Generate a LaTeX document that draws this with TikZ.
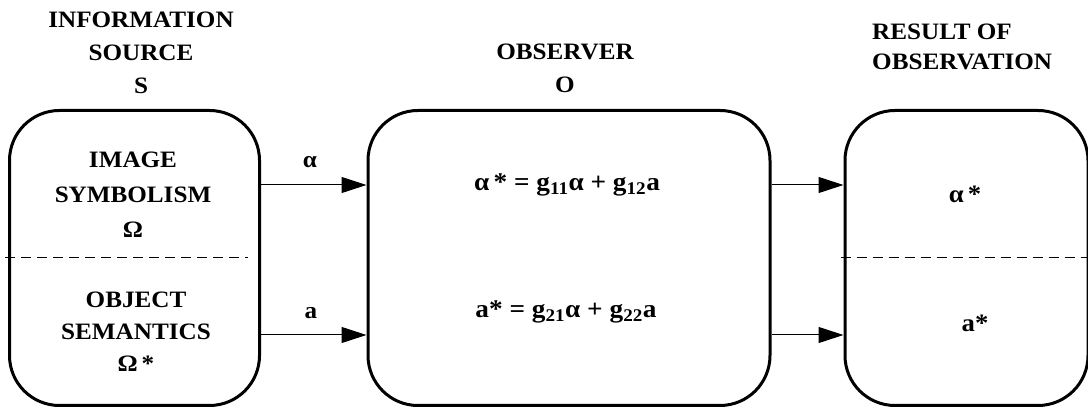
\documentclass[tikz,border=0pt]{standalone}
\usepackage{fontspec}
\setmainfont{Liberation Serif}[FakeStretch=1.07]
\usetikzlibrary{arrows.meta}

\begin{document}
\begin{tikzpicture}[x=1pt, y=1pt, line join=round,
  box/.style={draw, line width=3pt, rounded corners=50pt, inner sep=0pt},
  sig/.style={-{Triangle[length=25pt, width=16pt]}, line width=1pt},
  sep/.style={dash pattern=on 10pt off 6pt, line width=1pt},
  lbl/.style={font=\fontsize{23.5}{33}\selectfont\bfseries, align=center, inner sep=0pt}]
  \useasboundingbox (0,0) rectangle (1088,410);

  % the three blocks
  \node[box, minimum width=250pt, minimum height=295pt] (src) at (134.5,152) {};
  \node[box, minimum width=402pt, minimum height=295pt] (obs) at (569,152) {};
  \node[box, minimum width=243pt, minimum height=295pt] (res) at (966.5,152) {};

  \draw[sep] ([xshift=-3pt]src.west) -- ([xshift=-13pt]src.east);
  \draw[sep] ([xshift=-3pt]res.west) -- (res.east);

  % titles
  \node[lbl] (srct) at (141,357) {INFORMATION\\SOURCE\\S};
  \node[lbl] (obst) at (565,341.5) {OBSERVER\\O};
  \node[lbl, align=left, anchor=west, font=\fontsize{23.5}{30}\selectfont\bfseries] (rest) at (872,363) {RESULT OF\\OBSERVATION};

  % contents
  \node[lbl, font=\fontsize{23.5}{35}\selectfont\bfseries] (img) at (133,215) {IMAGE\\SYMBOLISM\\Ω};
  \node[lbl, font=\fontsize{23.5}{32}\selectfont\bfseries] (sem) at (136,78) {OBJECT\\SEMANTICS\\Ω\,*};
  \node[lbl, font=\fontsize{25.5}{33}\selectfont\bfseries] (eqa) at (567,225) {α\,* = g\textsubscript{11}α + g\textsubscript{12}a};
  \node[lbl, font=\fontsize{25.5}{33}\selectfont\bfseries] (eqb) at (566,98) {a* = g\textsubscript{21}α + g\textsubscript{22}a};
  \node[lbl, font=\fontsize{25}{33}\selectfont\bfseries] (ra) at (965,216) {α\,*};
  \node[lbl, font=\fontsize{25}{33}\selectfont\bfseries] (rb) at (975,87) {a*};

  % signals
  \coordinate (up) at (0,225);
  \coordinate (dn) at (0,75);
  \draw[sig] (src.east |- up) -- (obs.west |- up);
  \draw[sig] (src.east |- dn) -- (obs.west |- dn);
  \draw[sig] (obs.east |- up) -- (res.west |- up);
  \draw[sig] (obs.east |- dn) -- (res.west |- dn);
  \node[lbl] (alpha) at (310,248) {α};
  \node[lbl] (a) at (311,97) {a};
\end{tikzpicture}
\end{document}
